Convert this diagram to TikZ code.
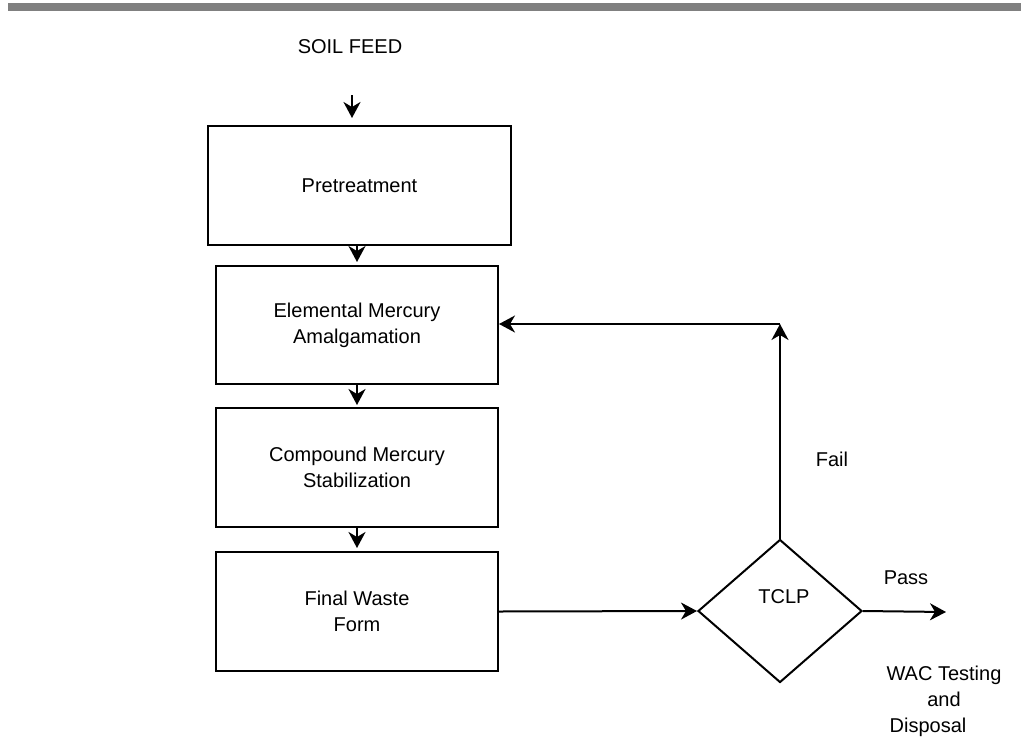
\documentclass[tikz,border=0pt]{standalone}
\usepackage{fontspec}
\setmainfont{Liberation Sans}
\usetikzlibrary{arrows.meta,shapes.geometric}
\definecolor{barcol}{RGB}{128,128,128}
\begin{document}
\begin{tikzpicture}[x=1pt,y=-1pt,
  every node/.style={font=\fontsize{20}{26}\selectfont, inner sep=0pt},
  box/.style={draw, line width=2pt, minimum width=282pt, minimum height=118pt, align=center},
  decision/.style={draw, diamond, line width=2pt, minimum width=164pt, minimum height=143pt},
  conn/.style={line width=2pt, -{Stealth[length=16pt,width=17pt,inset=5pt]}}
]
\useasboundingbox (0,0) rectangle (1021,740);
\fill[barcol] (8,3) rectangle (1021,11);

\node (soil) at (350,47) {SOIL FEED};
\node[box, minimum width=303pt, minimum height=119pt] (pre) at (359.5,185.5) {Pretreatment};
\node[box] (elem) at (357,325) {Elemental Mercury\\Amalgamation};
\node[box, minimum height=119pt] (comp) at (357,467.5) {Compound Mercury\\Stabilization};
\node[box, minimum height=119pt] (final) at (357,611.5) {Final Waste\\Form};
\node[decision] (tclp) at (780,611) {};
\node (tclptext) at (784,597) {TCLP};
\node (fail) at (832,459) {Fail};
\node (pass) at (906,578) {Pass};
\node[align=center] (wac) at (944,701) {WAC Testing\\and\hspace*{16pt}\\Disposal\hspace*{32pt}};

\coordinate (feed) at (352,95);
\coordinate (corner) at (780,324);
\coordinate (out) at (946,612);

\draw[conn, shorten >=7pt] (feed) -- (feed |- pre.north);
\draw[conn, shorten >=3pt] (elem.north |- pre.south) -- (elem.north);
\draw[conn, shorten >=2pt] (elem.south) -- (comp.north);
\draw[conn, shorten >=3pt] (comp.south) -- (final.north);
\draw[conn] (final.east) -- (tclp.west);
\draw[conn] (tclp.north) -- (corner);
\draw[conn] (corner) -- (elem.east |- corner);
\draw[conn] (tclp.east) -- (out);
\end{tikzpicture}
\end{document}
